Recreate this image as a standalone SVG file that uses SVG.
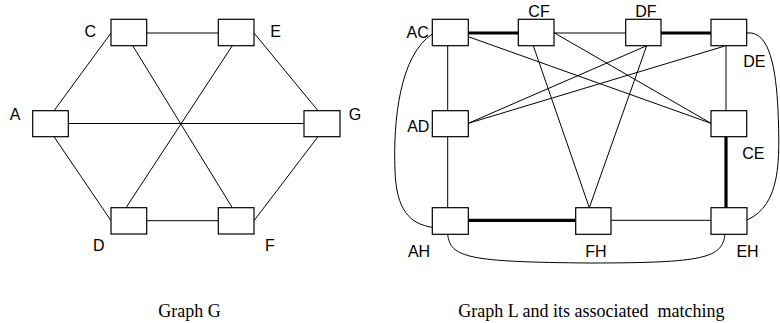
<svg xmlns="http://www.w3.org/2000/svg" width="780" height="323" viewBox="0 0 780 323">
<style>
.n{fill:#fff;stroke:#000;stroke-width:1.2}
.e{fill:none;stroke:#000;stroke-width:1}
.m{fill:none;stroke:#000;stroke-width:3.2}
.l{font-family:"Liberation Sans",Arial,sans-serif;font-size:16px;fill:#000;text-anchor:middle}
.t{font-family:"Liberation Serif","Times New Roman",serif;font-size:18px;fill:#000}
</style>
<rect width="780" height="323" fill="#fff"/>
<g id="connectors">
<line class="e" x1="147" y1="33" x2="218" y2="33"/>
<line class="e" x1="68" y1="123.5" x2="304" y2="123.5"/>
<line class="e" x1="111" y1="33" x2="54" y2="110.7"/>
<line class="e" x1="254" y1="33" x2="318" y2="110.7"/>
<line class="e" x1="54" y1="136.7" x2="111" y2="220.7"/>
<line class="e" x1="318" y1="136.7" x2="254" y2="220.7"/>
<line class="e" x1="132.7" y1="45.7" x2="232.3" y2="207.7"/>
<line class="e" x1="232.3" y1="45.7" x2="126" y2="207.7"/>
<line class="e" x1="147" y1="220.7" x2="218" y2="220.7"/>

<line class="m" x1="468.3" y1="33" x2="518.3" y2="33"/>
<line class="e" x1="554" y1="33" x2="625.7" y2="33"/>
<line class="m" x1="661" y1="33" x2="711" y2="33"/>
<line class="e" x1="447.7" y1="45.7" x2="447.7" y2="110.7"/>
<line class="e" x1="447.7" y1="136.7" x2="447.7" y2="207.7"/>
<line class="e" x1="726" y1="45.7" x2="726" y2="110.7"/>
<line class="m" x1="726" y1="136.7" x2="726" y2="207.7"/>
<line class="m" x1="468.3" y1="220.3" x2="575.7" y2="220.3"/>
<line class="e" x1="611" y1="220.3" x2="711" y2="220.3"/>
<line class="e" x1="468.3" y1="36.7" x2="711" y2="123.3"/>
<line class="e" x1="554" y1="32.7" x2="711" y2="123.3"/>
<line class="e" x1="468.3" y1="123.3" x2="646.7" y2="45.7"/>
<line class="e" x1="468.3" y1="123.3" x2="724.3" y2="46.2"/>
<line class="e" x1="533.3" y1="45.7" x2="589.3" y2="207.7"/>
<line class="e" x1="646.7" y1="45.7" x2="589.3" y2="207.7"/>
<path class="e" d="M432.3 34 C400 55,393 120,395 170 C396 210,410 224,432.3 227.3"/>
<path class="e" d="M746.7 33 C770 30,776 70,778 110 C780 160,781 205,747 220"/>
<path class="e" d="M447.7 234.3 C450 258,470 262,590 263 C705 263,722 258,725 234.3"/>
</g>
<g id="C"><rect class="n" x="111" y="19.3" width="35.7" height="26.4"/><text class="l" x="90.3" y="37.3">C</text></g>
<g id="E"><rect class="n" x="218.3" y="19.3" width="35.7" height="26.4"/><text class="l" x="275.7" y="37.3">E</text></g>
<g id="A"><rect class="n" x="32.7" y="110.7" width="35.6" height="26"/><text class="l" x="15" y="120">A</text></g>
<g id="G"><rect class="n" x="304" y="110.7" width="36" height="26"/><text class="l" x="355" y="120">G</text></g>
<g id="D"><rect class="n" x="111" y="207.7" width="35.7" height="26.3"/><text class="l" x="98.7" y="250.7">D</text></g>
<g id="F"><rect class="n" x="218.3" y="207.7" width="35.7" height="26.3"/><text class="l" x="270" y="250.7">F</text></g>

<g id="AC"><rect class="n" x="432.3" y="19.3" width="36" height="26.4"/><text class="l" x="417.7" y="38.3">AC</text></g>
<g id="CF"><rect class="n" x="518.3" y="19.3" width="35.7" height="26.4"/><text class="l" x="539" y="17">CF</text></g>
<g id="DF"><rect class="n" x="625.7" y="19.3" width="35.3" height="26.4"/><text class="l" x="645.8" y="17">DF</text></g>
<g id="DE"><rect class="n" x="711" y="19.3" width="35.7" height="26.4"/><text class="l" x="754.3" y="66.7">DE</text></g>
<g id="AD"><rect class="n" x="432.3" y="110.7" width="36" height="26"/><text class="l" x="418.3" y="131.7">AD</text></g>
<g id="CE"><rect class="n" x="711" y="110.7" width="35.7" height="26"/><text class="l" x="753.3" y="159">CE</text></g>
<g id="AH"><rect class="n" x="432.3" y="207.7" width="36" height="26.6"/><text class="l" x="419" y="257.3">AH</text></g>
<g id="FH"><rect class="n" x="575.7" y="207.7" width="35.3" height="26.6"/><text class="l" x="595.8" y="257.3">FH</text></g>
<g id="EH"><rect class="n" x="711" y="207.7" width="36" height="26.6"/><text class="l" x="747.5" y="257.3">EH</text></g>

<text class="t" x="158.3" y="316.5">Graph G</text>
<text class="t" x="458.3" y="316.5" xml:space="preserve">Graph L and its associated  matching</text>
</svg>
